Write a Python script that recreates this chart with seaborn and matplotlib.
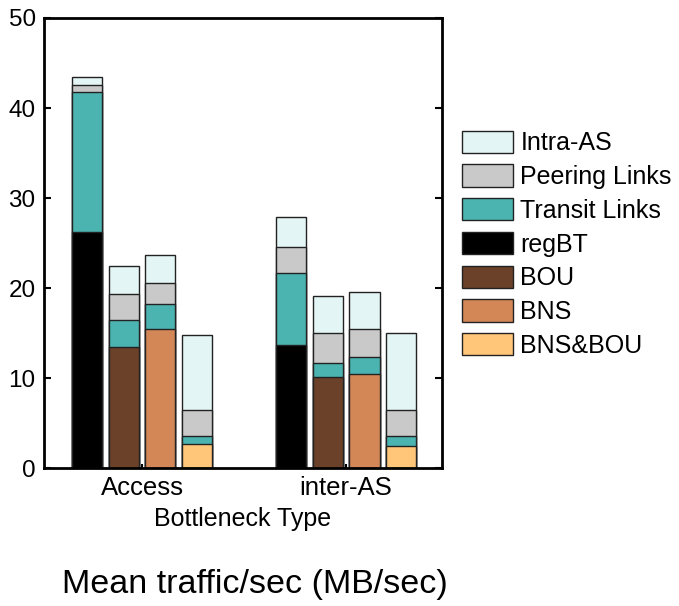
import matplotlib
matplotlib.use("Agg")
import matplotlib.pyplot as plt
import matplotlib.patches as mpatches
import seaborn as sns
import pandas as pd
import numpy as np

groups = ["Access", "inter-AS"]
types = ["regBT", "BOU", "BNS", "BNS&BOU"]
# segment heights (bottom -> top)
base_access = [26.2, 13.5, 15.4, 2.7]
base_inter = [13.7, 10.1, 10.5, 2.5]
transit_access = [15.6, 3.0, 2.8, 0.9]
transit_inter = [8.0, 1.6, 1.8, 1.1]
peering_access = [0.8, 2.8, 2.4, 2.8]
peering_inter = [2.9, 3.3, 3.1, 2.9]
intra_access = [0.8, 3.2, 3.1, 8.4]
intra_inter = [3.3, 4.1, 4.2, 8.5]

layer_names = ["Intra-AS", "Peering Links", "Transit Links"]
layer_colors = ["#e3f5f5", "#c9c9c9", "#4bb3b0"]
type_colors = ["#000000", "#6b412a", "#d38656", "#ffc67a"]

sns.set_theme(style="white")
plt.rcParams["font.family"] = ["Liberation Sans", "DejaVu Sans"]
plt.rcParams["text.color"] = "black"
plt.rcParams["xtick.color"] = "black"
plt.rcParams["ytick.color"] = "black"
plt.rcParams["axes.labelcolor"] = "black"

df = pd.DataFrame({
    "group": [groups[0]] * 4 + [groups[1]] * 4,
    "type": types * 2,
    "base": base_access + base_inter,
    "transit": transit_access + transit_inter,
    "peering": peering_access + peering_inter,
    "intra": intra_access + intra_inter,
})
df["c_transit"] = df["base"] + df["transit"]
df["c_peering"] = df["c_transit"] + df["peering"]
df["c_intra"] = df["c_peering"] + df["intra"]

fig = plt.figure(figsize=(6.79, 6.06), dpi=100)
ax = fig.add_axes([0.0648, 0.2277, 0.5862, 0.7426])

common = dict(x="group", hue="type", order=groups, hue_order=types,
              width=0.72, gap=0.18, errorbar=None, legend=False,
              edgecolor="#222222", linewidth=1.0, saturation=1, ax=ax)
for col, colr in zip(["c_intra", "c_peering", "c_transit"], layer_colors):
    sns.barplot(data=df, y=col, palette=[colr] * 4, **common)
sns.barplot(data=df, y="base", palette=type_colors, **common)

ax.set_xlim(-0.48, 1.47)
ax.set_ylim(0, 50)
ax.set_yticks([0, 10, 20, 30, 40, 50])
ax.set_xlabel("Bottleneck Type", fontsize=18, labelpad=5)
ax.set_ylabel("")
ax.tick_params(axis="x", direction="in", length=3, width=1.5,
               labelsize=18.5, pad=6, bottom=True, top=False)
ax.tick_params(axis="y", direction="in", length=5, width=1.5,
               labelsize=17.5, pad=6, left=True, right=True)
for s in ax.spines.values():
    s.set_visible(True)
    s.set_color("black")
    s.set_linewidth(2)

handles = [mpatches.Patch(facecolor=c, edgecolor="#222222", label=n)
           for c, n in zip(layer_colors + type_colors, layer_names + types)]
fig.legend(handles=handles, loc="center left", bbox_to_anchor=(0.680, 0.597),
           frameon=False, fontsize=18, handlelength=2.05, handleheight=1.0,
           labelspacing=0.36, handletextpad=0.3, borderaxespad=0, borderpad=0)

fig.text(0.376, 0.022, "Mean traffic/sec (MB/sec)", fontsize=24.5, ha="center")

fig.savefig("out.png", dpi=100)
